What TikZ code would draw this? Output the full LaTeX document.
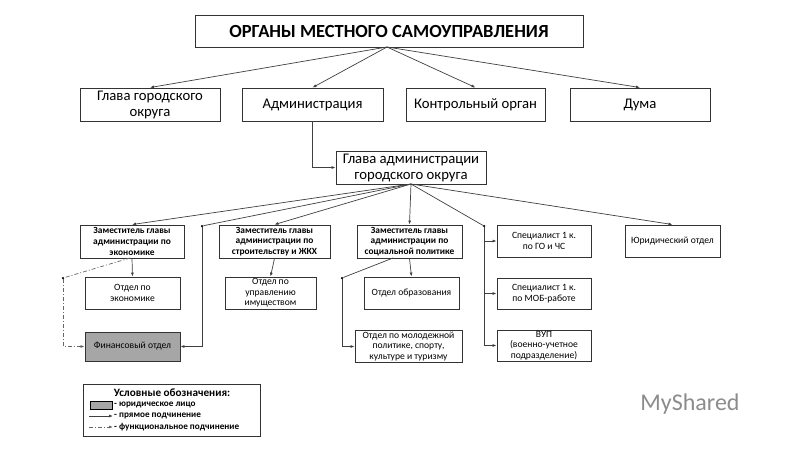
\documentclass[tikz,border=0pt]{standalone}
\usepackage{fontspec}
\setmainfont{Carlito}
\usetikzlibrary{arrows.meta}
\begin{document}
\begin{tikzpicture}[x=1pt,y=-1pt,
 box/.style={draw=black!80,line width=0.9pt,fill=white,align=center,inner sep=1pt},
 big/.style={font=\fontsize{14.7}{16}\selectfont},
 sm/.style={font=\fontsize{9.6}{10.6}\selectfont},
 smb/.style={font=\fontsize{9.4}{10.6}\selectfont\bfseries},
 arr/.style={draw=black!75,line width=0.7pt,-{Latex[length=4pt,width=3pt]}},
 ln/.style={draw=black!75,line width=0.7pt},
 dsh/.style={draw=black!60,line width=0.7pt,dash pattern=on 4pt off 2pt on 1pt off 2pt,-{Latex[length=4pt,width=3pt]}},
 dot/.style={circle,fill=black,inner sep=0pt,minimum size=2.5pt},
 lg/.style={font=\fontsize{9.2}{9.5}\selectfont\bfseries,anchor=west,inner sep=0pt}]
\useasboundingbox (0,0) rectangle (800,450);
\fill[white] (0,0) rectangle (800,450);
\def\bx#1#2#3#4#5#6#7{\node[box,#6,minimum width={#3-#1},minimum height={#4-#2}] (#5) at ({(#1+#3)/2},{(#2+#4)/2}) {#7};}
\bx{195}{15}{583}{47}{top}{font=\fontsize{18.5}{20}\selectfont\bfseries}{ОРГАНЫ МЕСТНОГО САМОУПРАВЛЕНИЯ}
\bx{80}{88}{220}{121}{gl}{big}{Глава городского\\округа}
\bx{242}{88}{383}{121}{adm}{big}{Администрация}
\bx{406}{88}{545}{121}{ko}{big}{Контрольный орган}
\bx{570}{88}{710}{121}{duma}{big}{Дума}
\bx{336}{151}{486}{184}{gago}{big}{Глава администрации\\городского округа}
\bx{80}{225}{184}{258}{ze}{smb}{Заместитель главы\\администрации по\\экономике}
\bx{219}{225}{330}{258}{zs}{smb}{Заместитель главы\\администрации по\\строительству и ЖКХ}
\bx{357}{225}{462}{258}{zp}{smb}{Заместитель главы\\администрации по\\социальной политике}
\bx{497}{225}{591}{257}{sgo}{sm}{Специалист 1 к.\\по ГО и ЧС}
\bx{625}{225}{720}{257}{yur}{sm}{Юридический отдел}
\bx{85}{277}{180}{309}{oe}{sm}{Отдел по\\экономике}
\bx{225}{277}{316}{309}{oui}{sm}{Отдел по\\управлению\\имуществом}
\bx{364}{277}{459}{309}{oo}{sm}{Отдел образования}
\bx{497}{278}{591}{309}{smob}{sm}{Специалист 1 к.\\по МОБ-работе}
\bx{85}{332}{180}{361}{fin}{sm,fill=black!35}{Финансовый отдел}
\bx{355}{332}{462}{361}{mol}{sm}{Отдел по молодежной\\политике, спорту,\\культуре и туризму}
\bx{497}{330}{591}{361}{vup}{sm}{ВУП\\(военно-учетное\\подразделение)}
\coordinate (tb) at (387,47);
\foreach \n in {gl,adm,ko,duma} \draw[arr] (tb) -- (\n.north);
\draw[arr] (adm.south) |- (gago.west);
\coordinate (gb) at (411,184);
\node[dot] (d1) at (202,226) {};
\node[dot] (d2) at (484,226) {};
\node[dot] (d3) at (342,278) {};
\node[dot] (d4) at (63,278) {};
\foreach \n in {ze,zs,zp,yur} \draw[arr] (gb) -- (\n.north);
\draw[ln] (gb) -- (d1); \draw[ln] (gb) -- (d2);
\draw[arr] (d1) |- (fin.east);
\draw[arr] (d2) |- (sgo.west);
\draw[arr] (d2) |- (smob.west);
\draw[arr] (d2) |- (vup.west);
\draw[arr] (ze.south) -- (oe.north);
\draw[arr] (zs.south) -- (oui.north);
\draw[arr] (zp.south) -- (oo.north);
\draw[ln] (393,258) -- (d3);
\draw[arr] (d3) |- (mol.west);
\draw[dsh,-] (130,258) -- (d4);
\draw[dsh] (d4) |- (fin.west);
\node[draw=black!80,line width=0.9pt,minimum width=177pt,minimum height=52pt] (leg) at (171.5,410) {};
\node[font=\fontsize{11.2}{12}\selectfont\bfseries,inner sep=0pt] (lt) at (172,393) {Условные обозначения:};
\node[draw,fill=black!35,minimum width=22pt,minimum height=8pt,inner sep=0pt] (lb) at (101,405) {};
\node[lg] (l1) at (114,405) {- юридическое лицо};
\coordinate (a1) at (89,416); \coordinate (a2) at (113,416);
\draw[arr] (a1) -- (a2);
\node[lg] (l2) at (114,416) {- прямое подчинение};
\coordinate (b1) at (89,427); \coordinate (b2) at (113,427);
\draw[dsh] (b1) -- (b2);
\node[lg] (l3) at (114,427) {- функциональное подчинение};
\node[text=black!45,font=\fontsize{24}{25}\selectfont] (ms) at (690,404) {MyShared};
\end{tikzpicture}
\end{document}
